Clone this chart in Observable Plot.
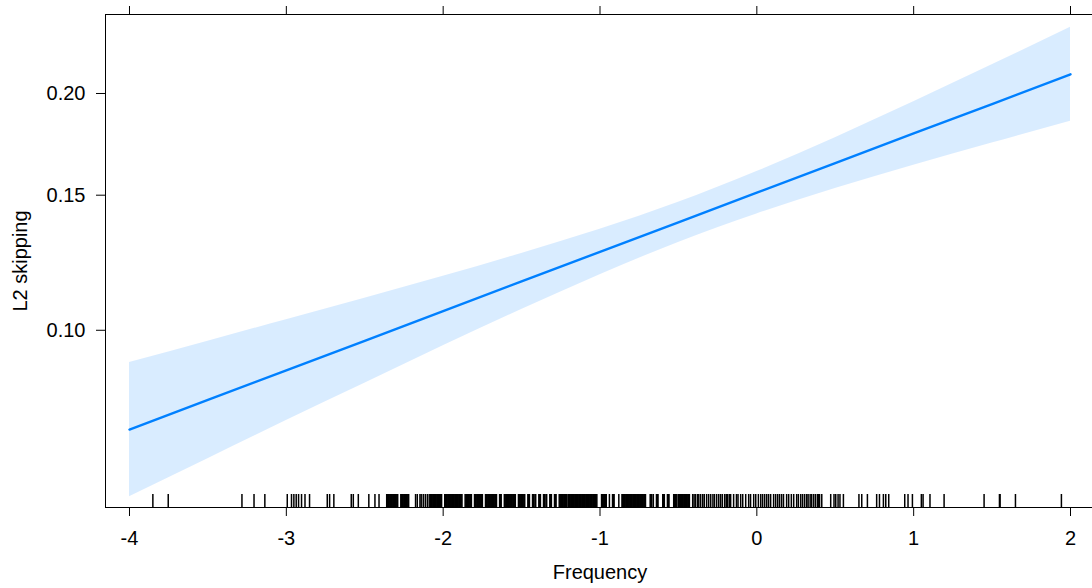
<!DOCTYPE html>
<html>
<head>
<meta charset="utf-8">
<script src="https://cdn.jsdelivr.net/npm/d3@7"></script>
<script src="https://cdn.jsdelivr.net/npm/@observablehq/plot@0.6"></script>
<style>
  html, body { margin: 0; padding: 0; background: #fff; overflow: hidden; width: 1092px; height: 588px; }
  svg { display: block; }
</style>
</head>
<body>
<script>
// ---- data ----
const xTicks = [-4, -3, -2, -1, 0, 1, 2];
const yTicks = [0.10, 0.15, 0.20];
const xDomain = [-4.153, 2.153];
const yDomain = [0.0571, 0.2468];

const effectX    = [-4, -3.5, -3, -2.5, -2, -1.5, -1, -0.5, 0, 0.5, 1, 1.5, 2];
const effectFit  = [0.0733, 0.0805, 0.0883, 0.0968, 0.1061, 0.1161, 0.1269, 0.1385, 0.1511, 0.1645, 0.1790, 0.1943, 0.2107];
const effectLow  = [0.0591, 0.0668, 0.0754, 0.0848, 0.0953, 0.1066, 0.1185, 0.1305, 0.1420, 0.1529, 0.1635, 0.1742, 0.1852];
const effectHigh = [0.0905, 0.0967, 0.1033, 0.1103, 0.1179, 0.1263, 0.1357, 0.1469, 0.1606, 0.1769, 0.1955, 0.2162, 0.2387];

const rugFrequency = [
  -3.851, -3.753, -3.283, -3.206, -3.137,
  -2.994, -2.967, -2.952, -2.937, -2.922, -2.903, -2.881, -2.852,
  -2.739, -2.724, -2.697, -2.586, -2.573, -2.541, -2.474, -2.435, -2.409,
  -2.36, -2.355, -2.35, -2.345, -2.34, -2.335, -2.33, -2.325, -2.32, -2.315, -2.31, -2.305, -2.30, -2.295, -2.29,
  -2.27, -2.265, -2.26, -2.255, -2.25, -2.245, -2.24, -2.235, -2.23, -2.225, -2.22,
  -2.176, -2.165, -2.148, -2.140, -2.127, -2.114, -2.101, -2.089,
  -2.08, -2.075, -2.07, -2.065, -2.06, -2.055, -2.05, -2.045, -2.04, -2.035, -2.03, -2.025, -2.02, -2.015, -2.01,
  -1.99, -1.985, -1.98, -1.975, -1.97, -1.965, -1.96, -1.955, -1.95, -1.945, -1.94, -1.935, -1.93, -1.925,
  -1.92, -1.915, -1.91, -1.905, -1.90, -1.895, -1.89, -1.885, -1.88,
  -1.86, -1.855, -1.85, -1.845, -1.84, -1.835, -1.83, -1.825, -1.82,
  -1.80, -1.795, -1.79, -1.785, -1.78, -1.775, -1.77, -1.765, -1.76, -1.755, -1.75,
  -1.73, -1.725, -1.72, -1.715, -1.71, -1.705, -1.70, -1.695, -1.69, -1.685, -1.68, -1.675, -1.67, -1.665, -1.66,
  -1.64, -1.635, -1.63,
  -1.61, -1.605, -1.60, -1.595, -1.59, -1.585, -1.58, -1.575, -1.57, -1.565, -1.56, -1.555, -1.55, -1.545, -1.54,
  -1.52, -1.515, -1.51, -1.505, -1.50, -1.495, -1.49, -1.485, -1.48,
  -1.46, -1.455, -1.45, -1.43, -1.425, -1.42, -1.41, -1.39, -1.385, -1.38,
  -1.36, -1.355, -1.35, -1.34, -1.32, -1.315, -1.31, -1.29, -1.285, -1.28,
  -1.26, -1.255, -1.25, -1.245, -1.24, -1.235, -1.23, -1.225, -1.22, -1.215, -1.21,
  -1.20, -1.195, -1.19, -1.185, -1.18, -1.175, -1.17, -1.165, -1.16, -1.155, -1.15, -1.145, -1.14, -1.135,
  -1.13, -1.125, -1.12, -1.115, -1.11, -1.105, -1.10, -1.095, -1.09, -1.085, -1.08, -1.075, -1.07, -1.065,
  -1.06, -1.055, -1.05, -1.045, -1.04, -1.035, -1.03, -1.025, -1.02,
  -0.99, -0.985, -0.98, -0.975, -0.97, -0.965, -0.96, -0.94, -0.92, -0.915, -0.91, -0.88,
  -0.86, -0.855, -0.85, -0.845, -0.84, -0.835, -0.83, -0.825, -0.82, -0.815, -0.81, -0.805, -0.80, -0.795,
  -0.79, -0.785, -0.78, -0.775, -0.77, -0.765, -0.76, -0.755, -0.75, -0.745, -0.74, -0.735, -0.73, -0.725,
  -0.72, -0.715, -0.71,
  -0.68, -0.675, -0.67, -0.66, -0.64, -0.635, -0.63, -0.60, -0.595, -0.59, -0.57, -0.565, -0.56,
  -0.53, -0.525, -0.52, -0.515, -0.51,
  -0.50, -0.495, -0.49, -0.485, -0.48, -0.475, -0.47, -0.465, -0.46, -0.455, -0.45, -0.445, -0.44, -0.435, -0.43,
  -0.409, -0.40, -0.390, -0.377, -0.37, -0.358, -0.345, -0.335, -0.32, -0.307, -0.294, -0.28, -0.27,
  -0.256, -0.243, -0.231, -0.22, -0.205, -0.195, -0.186, -0.175, -0.167, -0.148, -0.13, -0.12,
  -0.103, -0.09, -0.071, -0.052, -0.04, -0.020, -0.007, 0.01,
  0.025, 0.037, 0.05, 0.063, 0.075, 0.088, 0.107, 0.12, 0.133, 0.145, 0.158, 0.17, 0.190, 0.203,
  0.22, 0.235, 0.254, 0.265, 0.280, 0.292, 0.305, 0.318, 0.327, 0.340, 0.35, 0.363, 0.375, 0.388,
  0.395, 0.40, 0.414,
  0.471, 0.492, 0.503, 0.518, 0.530, 0.552, 0.651, 0.669, 0.705,
  0.764, 0.782, 0.807, 0.822, 0.841, 0.943, 0.964, 0.992,
  1.049, 1.060, 1.104, 1.194, 1.449, 1.547, 1.551, 1.649, 1.942
];

const xLabel = "Frequency";
const yLabel = "L2 skipping";

// ---- build ----
const logit = p => Math.log(p / (1 - p));
const invlogit = v => 1 / (1 + Math.exp(-v));
const effect = effectX.map((x, i) => ({x, fit: effectFit[i], lower: effectLow[i], upper: effectHigh[i]}));

const font = "'Liberation Sans', Arial, sans-serif";

const chart = Plot.plot({
  width: 1100,
  height: 588,
  marginLeft: 105,
  marginRight: 6,
  marginTop: 14,
  marginBottom: 81,
  style: {fontFamily: font, fontSize: "20px", color: "#000", background: "#fff", overflow: "visible", maxWidth: "none"},
  x: {domain: xDomain},
  y: {domain: yDomain.map(logit)},
  marks: [
    Plot.areaY(effect, {x: "x", y1: d => logit(d.lower), y2: d => logit(d.upper), fill: "#0080ff", fillOpacity: 0.15, curve: "natural"}),
    Plot.lineY(effect, {x: "x", y: d => logit(d.fit), stroke: "#0080ff", strokeWidth: 2.4}),
    Plot.tickX(rugFrequency, {x: d => d, stroke: "#000", strokeWidth: 1.5, insetTop: 480}),
    Plot.frame({stroke: "#000", strokeWidth: 1}),
    Plot.axisX({anchor: "bottom", ticks: xTicks, tickSize: 9, tickPadding: 14, label: null, fontSize: 20, tickFormat: d => String(d)}),
    Plot.axisX({anchor: "top", ticks: xTicks, tickSize: 9, tickFormat: () => "", label: null}),
    Plot.axisY({anchor: "left", ticks: yTicks.map(logit), tickSize: 9, tickPadding: 11, label: null, fontSize: 20,
                tickFormat: d => invlogit(d).toFixed(2)}),
    Plot.text([xLabel], {frameAnchor: "bottom", dy: 65, lineAnchor: "middle", textAnchor: "middle", fontSize: 20, fill: "#000"}),
    Plot.text([yLabel], {frameAnchor: "left", dx: -85, rotate: -90, lineAnchor: "middle", textAnchor: "middle", fontSize: 20, fill: "#000"})
  ]
});
document.body.appendChild(chart);
</script>
</body>
</html>
